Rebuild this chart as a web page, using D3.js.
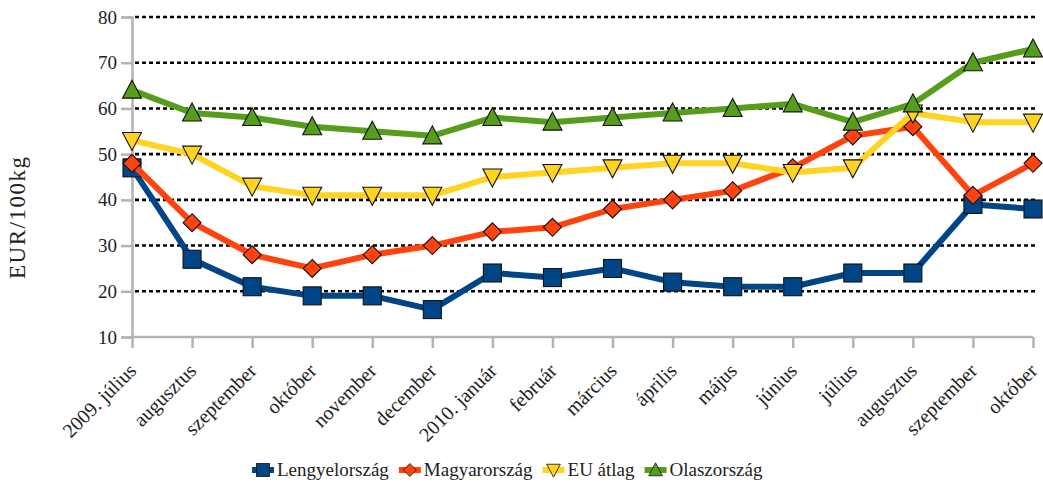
<!DOCTYPE html>
<html><head><meta charset="utf-8">
<script src="https://cdn.jsdelivr.net/npm/d3@7"></script>
<style>body{margin:0;background:#fff}svg{display:block}svg text{font-family:"Liberation Serif","Times New Roman","DejaVu Serif",serif !important;fill:#222}</style>
</head><body><svg id="c" width="1043" height="483"></svg>
<script>
const categories = ["2009. július","augusztus","szeptember","október","november","december","2010. január","február","március","április","május","június","július","augusztus","szeptember","október"];
const yTicks = [10,20,30,40,50,60,70,80];
const lengyel = [47,27,21,19,19,16,24,23,25,22,21,21,24,24,39,38];
const magyar  = [48,35,28,25,28,30,33,34,38,40,42,47,54,56,41,48];
const eu      = [53,50,43,41,41,41,45,46,47,48,48,46,47,59,57,57];
const olasz   = [64,59,58,56,55,54,58,57,58,59,60,61,57,61,70,73];
const seriesNames = ["Lengyelország","Magyarország","EU átlag","Olaszország"];
const seriesVals = [lengyel, magyar, eu, olasz];
const colors = ["#004586","#ff420e","#ffd320","#579d1c"];
const shapes = ["square","diamond","down","up"];

const FONT = '"Liberation Serif","Times New Roman","DejaVu Serif",serif';
const FS = 19;
const svg = d3.select("#c");
const L=132, R=1033, T=17, B=337;
const x = d3.scalePoint().domain(d3.range(categories.length)).range([L,R]);
const y = d3.scaleLinear().domain([10,80]).range([B,T]);

// gridlines
svg.append("g").selectAll("line").data(yTicks.filter(d=>d>10)).join("line")
  .attr("x1",L+3).attr("x2",R+2).attr("y1",d=>y(d)).attr("y2",d=>y(d))
  .attr("stroke","#000").attr("stroke-width",2.6).attr("stroke-dasharray","4,3");

// y axis
const ya = svg.append("g").attr("transform",`translate(${L},0)`)
  .call(d3.axisLeft(y).tickValues(yTicks).tickSize(11).tickPadding(4));
ya.attr("font-family",FONT);
ya.select(".domain").attr("stroke","#b3b3b3").attr("stroke-width",2.5);
ya.selectAll(".tick line").attr("stroke","#b3b3b3").attr("stroke-width",2.5);
ya.selectAll(".tick text").attr("font-size",FS).attr("fill","#222");

// x axis
const xa = svg.append("g").attr("transform",`translate(0,${B})`)
  .call(d3.axisBottom(x).tickSize(11).tickFormat(i=>categories[i]));
xa.attr("font-family",FONT);
xa.select(".domain").attr("stroke","#b3b3b3").attr("stroke-width",2.5).attr("d",`M${L},0H${R}`);
xa.selectAll(".tick line").attr("stroke","#b3b3b3").attr("stroke-width",2.5);
xa.selectAll(".tick text").attr("font-size",20).attr("fill","#222")
  .attr("text-anchor","end").attr("dy",0).attr("y",0)
  .attr("transform","translate(5,35) rotate(-45)");

// y label
svg.append("text").attr("transform","translate(25,218) rotate(-90)").attr("text-anchor","middle")
  .attr("font-family",FONT).attr("font-size",23).attr("textLength",122).attr("lengthAdjust","spacing").text("EUR/100kg");

function marker(g, shape, color, cx, cy){
  let m;
  if(shape==="square") m=g.append("rect").attr("x",cx-9).attr("y",cy-9).attr("width",18).attr("height",18);
  else if(shape==="diamond") m=g.append("path").attr("d",`M${cx},${cy-9}L${cx+9},${cy}L${cx},${cy+9}L${cx-9},${cy}Z`);
  else if(shape==="down") m=g.append("path").attr("d",`M${cx-9.5},${cy-8}L${cx+9.5},${cy-8}L${cx},${cy+10}Z`);
  else m=g.append("path").attr("d",`M${cx},${cy-10}L${cx+9.5},${cy+8}L${cx-9.5},${cy+8}Z`);
  m.attr("fill",color).attr("stroke","#111").attr("stroke-width",1.1);
}

const line = d3.line().x((d,i)=>x(i)).y(d=>y(d));
seriesVals.forEach((vals,si)=>{
  const g = svg.append("g");
  g.append("path").attr("d",line(vals)).attr("fill","none").attr("stroke",colors[si]).attr("stroke-width",6).attr("stroke-linejoin","round");
  vals.forEach((v,i)=>marker(g, shapes[si], colors[si], x(i), y(v)));
});

// legend
let lx = 252; const ly = 470;
seriesNames.forEach((n,i)=>{
  const g = svg.append("g");
  g.append("line").attr("x1",lx).attr("x2",lx+22).attr("y1",ly).attr("y2",ly).attr("stroke",colors[i]).attr("stroke-width",6);
  const mg = g.append("g").attr("transform",`translate(${lx+11},${ly}) scale(0.72)`);
  marker(mg, shapes[i], colors[i], 0, 0);
  const t = g.append("text").attr("x",lx+25).attr("y",ly+6).attr("font-family",FONT).attr("font-size",FS).text(n);
  lx += 25 + t.node().getComputedTextLength() + 10;
});
</script></body></html>
